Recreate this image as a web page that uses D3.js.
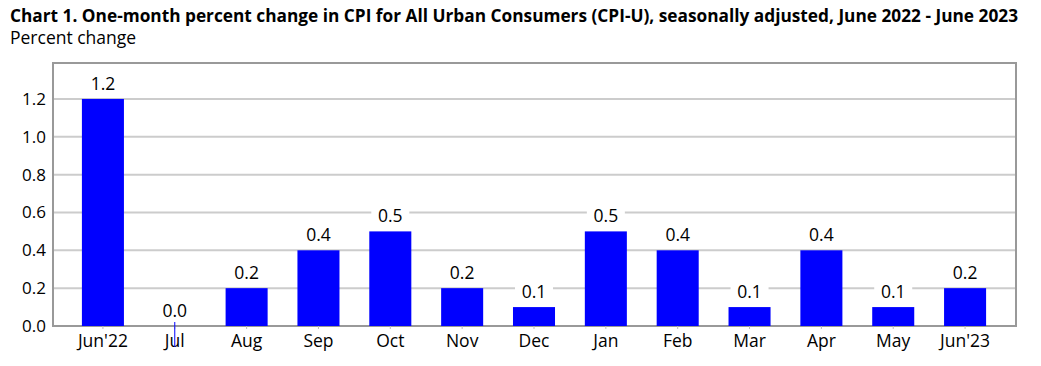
<!DOCTYPE html>
<html><head><meta charset="utf-8">
<script src="https://cdn.jsdelivr.net/npm/d3@7"></script>
<style>body{margin:0;background:#fff;} svg{display:block;}</style>
</head><body>
<script>
const categories = ["Jun'22","Jul","Aug","Sep","Oct","Nov","Dec","Jan","Feb","Mar","Apr","May","Jun'23"];
const values = [1.2,0.0,0.2,0.4,0.5,0.2,0.1,0.5,0.4,0.1,0.4,0.1,0.2];
const yTicks = [0.0,0.2,0.4,0.6,0.8,1.0,1.2];
const title = "Chart 1. One-month percent change in CPI for All Urban Consumers (CPI-U), seasonally adjusted, June 2022 - June 2023";
const subtitle = "Percent change";

const W = 1041, H = 366;
const font = "'Open Sans', 'Noto Sans', sans-serif";
const svg = d3.select("body").append("svg").attr("width", W).attr("height", H);

const plot = {left: 53, right: 1016, top: 63, bottom: 326};
const x = d3.scaleBand().domain(categories).range([67, 1001]).paddingInner(0.415).paddingOuter(0.2075);
const y = d3.scaleLinear().domain([0, 1.39]).range([plot.bottom, plot.top]);

svg.append("text").attr("x", 10).attr("y", 22).attr("font-family", font).attr("font-weight", "bold")
  .attr("font-size", 17).attr("fill", "#000")
  .attr("textLength", 1008).attr("lengthAdjust", "spacingAndGlyphs").text(title);
svg.append("text").attr("x", 10).attr("y", 44).attr("font-family", font)
  .attr("font-size", 17.5).attr("fill", "#000").text(subtitle);

// gridlines
svg.append("g").selectAll("line").data(yTicks.filter(d => d > 0)).join("line")
  .attr("x1", plot.left).attr("x2", plot.right)
  .attr("y1", d => y(d)).attr("y2", d => y(d))
  .attr("stroke", "#cccccc").attr("stroke-width", 2);

// frame
svg.append("rect").attr("x", plot.left).attr("y", plot.top)
  .attr("width", plot.right - plot.left).attr("height", plot.bottom - plot.top)
  .attr("fill", "none").attr("stroke", "#999999").attr("stroke-width", 2);

// y axis
const yAxis = d3.axisLeft(y).tickValues(yTicks).tickFormat(d3.format(".1f")).tickSize(0).tickPadding(7);
const gy = svg.append("g").attr("transform", `translate(${plot.left},0)`).call(yAxis);
gy.select(".domain").remove();
gy.selectAll("text").attr("font-family", font).attr("font-size", 17).attr("fill", "#000");

// x axis
const xAxis = d3.axisBottom(x).tickSize(3).tickPadding(6);
const gx = svg.append("g").attr("transform", `translate(0,${plot.bottom})`).call(xAxis);
gx.select(".domain").remove();
gx.selectAll("line").attr("stroke", "#bbbbbb");
gx.selectAll("text").attr("font-family", font).attr("font-size", 17.5).attr("fill", "#000");

// bars
svg.append("g").selectAll("rect").data(values).join("rect")
  .attr("x", (d, i) => x(categories[i]))
  .attr("y", d => y(d))
  .attr("width", x.bandwidth())
  .attr("height", d => y(0) - y(d))
  .attr("fill", "#0000ff");

// zero-value marker line
svg.append("g").selectAll("line").data(values.map((v, i) => ({v, c: categories[i]})).filter(d => d.v === 0)).join("line")
  .attr("x1", d => x(d.c) + x.bandwidth() / 2).attr("x2", d => x(d.c) + x.bandwidth() / 2)
  .attr("y1", y(0) - 4).attr("y2", y(0) + 21)
  .attr("stroke", "#0000ff").attr("stroke-width", 1);

// value labels with white background
const lab = svg.append("g").selectAll("g").data(values).join("g")
  .attr("transform", (d, i) => `translate(${x(categories[i]) + x.bandwidth() / 2},${y(d) - 9})`);
lab.append("rect").attr("x", -19).attr("y", -16).attr("width", 38).attr("height", 20).attr("fill", "#fff");
lab.append("text").attr("text-anchor", "middle").attr("font-family", font).attr("font-size", 17.5)
  .attr("fill", "#000").text(d => d3.format(".1f")(d));
</script>
</body></html>
